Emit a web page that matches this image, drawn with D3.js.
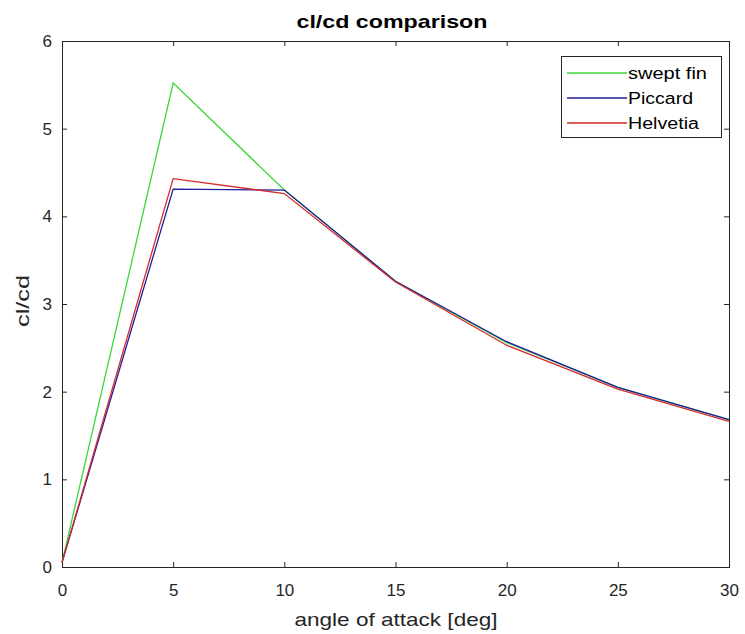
<!DOCTYPE html>
<html><head><meta charset="utf-8">
<script src="https://cdn.jsdelivr.net/npm/d3@7"></script>
<style>body{margin:0;background:#fff;} text{font-family:"Liberation Sans",Arial,sans-serif;}</style>
</head><body><svg id="c" width="745" height="634"></svg>
<script>
const angles = [0, 5, 10, 15, 20, 25, 30];
const sweptFin = [0.05, 5.52, 4.30, 3.26, 2.56, 2.05, 1.68];
const piccard  = [0.05, 4.31, 4.30, 3.26, 2.57, 2.05, 1.68];
const helvetia = [0.05, 4.43, 4.26, 3.25, 2.53, 2.03, 1.66];
const seriesNames = ["swept fin", "Piccard", "Helvetia"];
const seriesColors = ["#3ad63a", "#1e1e9e", "#d42a2a"];
const xTicks = [0, 5, 10, 15, 20, 25, 30];
const yTicks = [0, 1, 2, 3, 4, 5, 6];

const svg = d3.select("#c");
const L = 62, R = 729, T = 41, B = 567;
const x = d3.scaleLinear().domain([0, 30]).range([L, R]);
const y = d3.scaleLinear().domain([0, 6]).range([B, T]);

svg.append("rect").attr("width", 745).attr("height", 634).attr("fill", "#fff");

const tickLen = 5;
const fmt = d3.format("d");
const gx = svg.append("g").attr("transform", `translate(0,${B})`)
  .call(d3.axisBottom(x).tickValues(xTicks).tickSize(-tickLen).tickPadding(17).tickFormat(fmt));
const gxt = svg.append("g").attr("transform", `translate(0,${T})`)
  .call(d3.axisTop(x).tickValues(xTicks).tickSize(-tickLen).tickFormat(""));
const gy = svg.append("g").attr("transform", `translate(${L},0)`)
  .call(d3.axisLeft(y).tickValues(yTicks).tickSize(-tickLen).tickPadding(10).tickFormat(fmt));
const gyr = svg.append("g").attr("transform", `translate(${R},0)`)
  .call(d3.axisRight(y).tickValues(yTicks).tickSize(-tickLen).tickFormat(""));
[gx, gxt, gy, gyr].forEach(g => {
  g.selectAll("path").attr("stroke", "#262626").attr("stroke-width", 1);
  g.selectAll("line").attr("stroke", "#262626");
  g.selectAll("text").attr("fill", "#262626").style("font-size", "17px");
});

const data = [sweptFin, piccard, helvetia];
const line = d3.line().x((d, i) => x(angles[i])).y(d => y(d));
data.forEach((s, k) => {
  svg.append("path").datum(s).attr("d", line)
    .attr("fill", "none").attr("stroke", seriesColors[k]).attr("stroke-width", 1.3);
});

// title & labels
svg.append("text").attr("x", 392).attr("y", 28).attr("text-anchor", "middle")
  .attr("textLength", 191).attr("lengthAdjust", "spacingAndGlyphs")
  .style("font-size", "19px").style("font-weight", "bold").attr("fill", "#000").text("cl/cd comparison");
svg.append("text").attr("x", 396).attr("y", 626).attr("text-anchor", "middle")
  .attr("textLength", 203).attr("lengthAdjust", "spacingAndGlyphs")
  .style("font-size", "19px").attr("fill", "#262626").text("angle of attack [deg]");
svg.append("text").attr("transform", `translate(29,301) rotate(-90)`).attr("text-anchor", "middle")
  .attr("textLength", 52).attr("lengthAdjust", "spacingAndGlyphs")
  .style("font-size", "19px").attr("fill", "#262626").text("cl/cd");

// legend
const legendW = [79, 65, 71];
const lg = svg.append("g");
lg.append("rect").attr("x", 561.5).attr("y", 56.5).attr("width", 160).attr("height", 81)
  .attr("fill", "#fff").attr("stroke", "#262626").attr("stroke-width", 1);
seriesNames.forEach((n, i) => {
  const yy = 73 + i * 25;
  lg.append("line").attr("x1", 567).attr("x2", 627).attr("y1", yy).attr("y2", yy)
    .attr("stroke", seriesColors[i]).attr("stroke-width", 1.3);
  lg.append("text").attr("x", 628).attr("y", yy + 6).style("font-size", "16px")
    .attr("textLength", legendW[i]).attr("lengthAdjust", "spacingAndGlyphs")
    .attr("fill", "#000").text(n);
});
</script></body></html>
